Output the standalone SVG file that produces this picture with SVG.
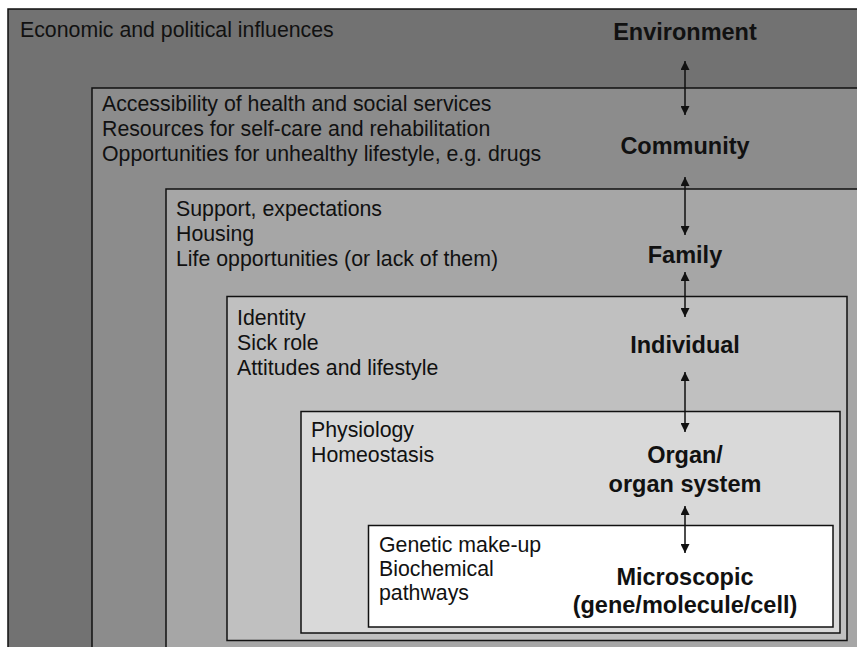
<svg xmlns="http://www.w3.org/2000/svg" width="857" height="647" viewBox="0 0 857 647">
  <style>
    .box { stroke: #111; stroke-width: 1.5; }
    .txt { font-family: "Liberation Sans", Arial, Helvetica, sans-serif; font-size: 21.3px; fill: #111; }
    .lvl { font-family: "Liberation Sans", Arial, Helvetica, sans-serif; font-size: 23.5px; font-weight: bold; fill: #111; text-anchor: middle; }
    .link { stroke: #111; stroke-width: 1.5; fill: none; marker-start: url(#head); marker-end: url(#head); }
  </style>
  <defs>
    <marker id="head" viewBox="0 0 10 10" refX="10" refY="5" markerWidth="9" markerHeight="9" markerUnits="userSpaceOnUse" orient="auto-start-reverse">
      <path d="M0,0 L10,5 L0,10 Z" fill="#111"/>
    </marker>
  </defs>
  <rect width="857" height="647" fill="#ffffff"/>

  <g id="environment">
    <rect class="box" x="8" y="9" width="860" height="650" fill="#727272"/>
    <text class="txt" x="20" y="37">Economic and political influences</text>
    <text class="lvl" x="685" y="40">Environment</text>
  </g>

  <g id="community">
    <rect class="box" x="92" y="88" width="780" height="570" fill="#8c8c8c"/>
    <text class="txt" x="102" y="111">Accessibility of health and social services</text>
    <text class="txt" x="102" y="136">Resources for self-care and rehabilitation</text>
    <text class="txt" x="102" y="161">Opportunities for unhealthy lifestyle, e.g. drugs</text>
    <text class="lvl" x="685" y="154">Community</text>
  </g>

  <g id="family">
    <rect class="box" x="166" y="189" width="710" height="470" fill="#a6a6a6"/>
    <text class="txt" x="176" y="216">Support, expectations</text>
    <text class="txt" x="176" y="241">Housing</text>
    <text class="txt" x="176" y="266">Life opportunities (or lack of them)</text>
    <text class="lvl" x="685" y="263">Family</text>
  </g>

  <g id="individual">
    <rect class="box" x="227" y="296.5" width="620" height="344" fill="#c0c0c0"/>
    <text class="txt" x="237" y="325">Identity</text>
    <text class="txt" x="237" y="350">Sick role</text>
    <text class="txt" x="237" y="375">Attitudes and lifestyle</text>
    <text class="lvl" x="685" y="353">Individual</text>
  </g>

  <g id="organ">
    <rect class="box" x="301" y="411.5" width="539" height="221.5" fill="#d9d9d9"/>
    <text class="txt" x="311" y="437">Physiology</text>
    <text class="txt" x="311" y="462">Homeostasis</text>
    <text class="lvl" x="685" y="463">Organ/</text>
    <text class="lvl" x="685" y="492">organ system</text>
  </g>

  <g id="microscopic">
    <rect class="box" x="368.5" y="525.5" width="464.5" height="101.5" fill="#ffffff"/>
    <text class="txt" x="379" y="552">Genetic make-up</text>
    <text class="txt" x="379" y="576">Biochemical</text>
    <text class="txt" x="379" y="600">pathways</text>
    <text class="lvl" x="685" y="585">Microscopic</text>
    <text class="lvl" x="685" y="613">(gene/molecule/cell)</text>
  </g>

  <g id="connectors">
    <line class="link" x1="685" y1="61" x2="685" y2="115"/>
    <line class="link" x1="685" y1="177" x2="685" y2="235"/>
    <line class="link" x1="685" y1="272" x2="685" y2="317"/>
    <line class="link" x1="685" y1="372" x2="685" y2="432"/>
    <line class="link" x1="685" y1="506" x2="685" y2="553"/>
  </g>
</svg>
